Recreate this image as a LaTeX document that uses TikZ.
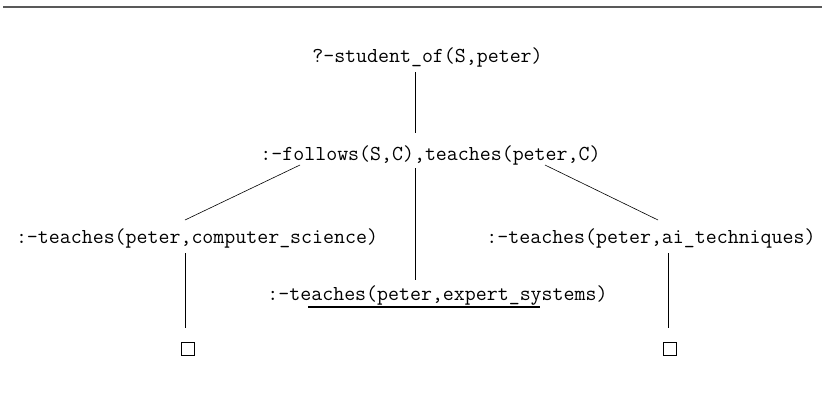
\documentclass[tikz,border=0pt]{standalone}
\usepackage{fontspec}
\begin{document}
\begin{tikzpicture}[x=1pt,y=1pt,
		goal/.style={inner sep=0pt,anchor=base,font=\fontsize{21.3}{23}\selectfont\ttfamily},
		empty/.style={draw,inner sep=0pt,minimum size=12.5pt},
		edge/.style={draw,line width=0.6pt}]
		\useasboundingbox (0,0) rectangle (822,-392);
		\draw [black!65,line width=1.6pt] (3,-7) -- (822,-7);
		\node [goal] (root) at (427.5,-62) {?-student\_of(S,peter)};
		\node [goal] (fol) at (430.5,-160) {:-follows(S,C),teaches(peter,C)};
		\node [goal] (lft) at (197,-243) {:-teaches(peter,computer\_science)};
		\node [goal] (mid) at (437.5,-300) {:-teaches(peter,expert\_systems)};
		\node [goal] (rgt) at (651,-243) {:-teaches(peter,ai\_techniques)};
		\node [empty] (lbox) at (187.5,-348.5) {};
		\node [empty] (rbox) at (669.5,-348.5) {};
		\draw [edge] ([shift={(-12.5,-10)}]root.base) -- ([shift={(-15.5,27)}]fol.base);
		\draw [edge] ([shift={(-130.5,-5)}]fol.base) -- ([shift={(-12,23)}]lft.base);
		\draw [edge] ([shift={(-15.5,-8)}]fol.base) -- ([shift={(-22.5,20)}]mid.base);
		\draw [edge] ([shift={(114.5,-5)}]fol.base) -- ([shift={(7,23)}]rgt.base);
		\draw [edge] ([shift={(-12,-10)}]lft.base) -- ([shift={(-2.5,14)}]lbox.north);
		\draw [edge] ([shift={(17,-10)}]rgt.base) -- ([shift={(-1.5,14)}]rbox.north);
		\draw [line width=2pt] ([shift={(-129.5,-7)}]mid.base) -- ([shift={(102.5,-7)}]mid.base);
	\end{tikzpicture}
\end{document}
